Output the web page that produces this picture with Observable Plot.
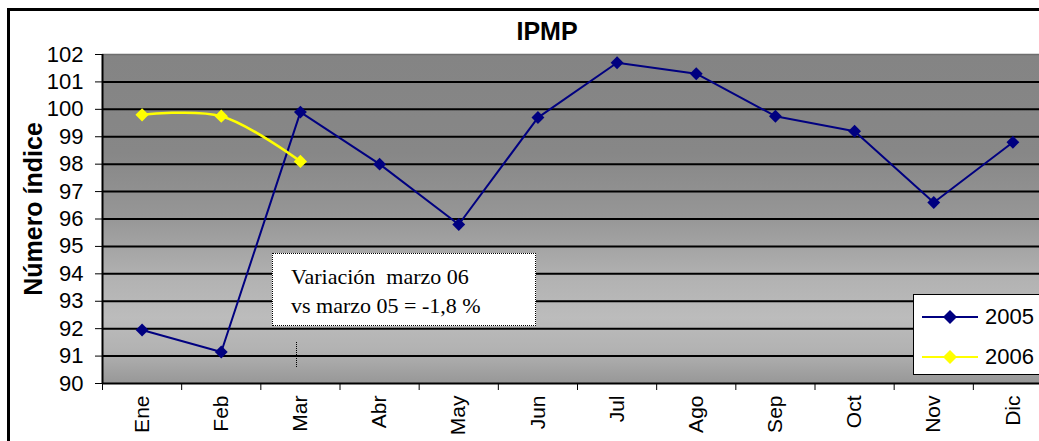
<!DOCTYPE html>
<html><head><meta charset="utf-8">
<script src="https://cdn.jsdelivr.net/npm/d3@7"></script>
<script src="https://cdn.jsdelivr.net/npm/@observablehq/plot@0.6"></script>
<style>
html,body{margin:0;padding:0;background:#fff;overflow:hidden}
#wrap{position:relative;width:1039px;height:441px;overflow:hidden;font-family:"Liberation Sans",Arial,sans-serif;color:#000}
#border{position:absolute;left:7px;top:8px;width:1100px;height:500px;border-left:3px solid #000;border-top:3px solid #000;box-sizing:border-box}
#chart{position:absolute;left:0;top:0;width:1060px;height:441px}
#chart svg{max-width:none !important;width:1060px;height:441px}
#title{position:absolute;left:0;width:1094px;top:19px;line-height:25px;text-align:center;font-weight:bold;font-size:25px}
#note{position:absolute;left:272px;top:253px;width:264px;height:73px;box-sizing:border-box;border:1.5px dotted #000;background:#fff;
  font-family:"Liberation Serif","Times New Roman",serif;font-size:22px;line-height:29px;padding:8px 0 0 18px;white-space:pre}
#noteLeader{position:absolute;left:296px;top:342px;height:25px;width:0;border-left:1.2px dotted #000}
#legend{position:absolute;left:913px;top:294px;width:140px;height:81px;box-sizing:border-box;border:1.5px solid #000;background:#fff}
.lg{position:absolute;left:8px;height:20px;font-size:22px;line-height:20px}
.lg svg{position:absolute;left:0;top:0}
.lg span{position:absolute;left:63px;top:0}
</style></head>
<body>
<div id="wrap">
  <div id="border"></div>
  <div id="chart"></div>
  <div id="title">IPMP</div>
  <div id="note">Variación  marzo 06
vs marzo 05 = -1,8 %</div>
  <div id="noteLeader"></div>
  <div id="legend"></div>
</div>
<script>
const months = ["Ene","Feb","Mar","Abr","May","Jun","Jul","Ago","Sep","Oct","Nov","Dic"];
const ipmp2005 = [91.95, 91.15, 99.9, 98.0, 95.8, 99.7, 101.7, 101.3, 99.75, 99.2, 96.6, 98.8];
const ipmp2006 = [99.8, 99.75, 98.1];
const yTicks = [90, 91, 92, 93, 94, 95, 96, 97, 98, 99, 100, 101, 102];
const seriesNames = ["2005", "2006"];
const seriesColors = ["#000080", "#ffff00"];

const d05 = ipmp2005.map((v, i) => ({x: i + 0.5, v}));
const d06 = ipmp2006.map((v, i) => ({x: i + 0.5, v}));
const bounds = d3.range(months.length + 1);

const svg = Plot.plot({
  width: 1060,
  height: 441,
  marginTop: 54,
  marginBottom: 58,
  marginLeft: 102,
  marginRight: 8,
  style: {fontFamily: '"Liberation Sans", Arial, sans-serif', color: "#000", background: "transparent", maxWidth: "none"},
  x: {domain: [0, months.length]},
  y: {domain: [90, 102]},
  marks: [
    Plot.frame({fill: "#999", stroke: "none"}),
    Plot.gridY({ticks: yTicks.filter(t => t > 90 && t < 102), stroke: "#000", strokeOpacity: 1, strokeWidth: 2}),
    Plot.ruleY([102], {stroke: "#6e6e6e", strokeWidth: 1.5}),
    Plot.ruleY([90], {stroke: "#000", strokeWidth: 2}),
    Plot.ruleX([0], {stroke: "#000", strokeWidth: 2}),
    Plot.axisY({ticks: yTicks, tickSize: 7, tickPadding: 12, fontSize: 22, label: null, tickFormat: d => String(d)}),
    Plot.axisX({ticks: bounds, tickSize: 7, tickFormat: () => "", label: null}),
    Plot.text(months, {x: (d, i) => i + 0.5, text: d => d, frameAnchor: "bottom", rotate: -90, textAnchor: "end", lineAnchor: "middle", dy: 12, fontSize: 21}),
    Plot.text(["Número índice"], {frameAnchor: "left", text: d => d, rotate: -90, textAnchor: "middle", dx: -69, dy: -10, fontSize: 25, fontWeight: "bold", lineAnchor: "middle"}),
    Plot.line(d05, {x: "x", y: "v", stroke: seriesColors[0], strokeWidth: 2}),
    Plot.dot(d05, {x: "x", y: "v", symbol: "diamond2", r: 5.8, fill: seriesColors[0], stroke: "none"}),
    Plot.line(d06, {x: "x", y: "v", stroke: seriesColors[1], strokeWidth: 2.5, curve: "catmull-rom"}),
    Plot.dot(d06, {x: "x", y: "v", symbol: "diamond2", r: 6, fill: seriesColors[1], stroke: "none"})
  ]
});

// gradient background of plot area
const sel = d3.select(svg);
const grad = sel.insert("defs", ":first-child").append("linearGradient")
  .attr("id", "ipmpBg").attr("x1", 0).attr("y1", 0).attr("x2", 0).attr("y2", 1);
[[0, "#848484"], [0.3, "#878787"], [0.5, "#979797"], [0.68, "#b2b2b2"], [0.8, "#bcbcbc"], [0.9, "#b2b2b2"], [1, "#979797"]]
  .forEach(([o, c]) => grad.append("stop").attr("offset", o).attr("stop-color", c));
const fr = svg.querySelector('[aria-label="frame"]');
if (fr) {
  const rects = fr.tagName.toLowerCase() === "rect" ? [fr] : fr.querySelectorAll("rect");
  rects.forEach(r => r.setAttribute("fill", "url(#ipmpBg)"));
  fr.setAttribute("fill", "url(#ipmpBg)");
}
svg.style.maxWidth = "none";
document.getElementById("chart").appendChild(svg);

// legend
const legend = document.getElementById("legend");
seriesNames.forEach((name, i) => {
  const row = document.createElement("div");
  row.className = "lg";
  row.style.top = (12 + i * 40) + "px";
  row.innerHTML = `<svg width="58" height="20"><line x1="0" x2="56" y1="10" y2="10" stroke="${seriesColors[i]}" stroke-width="2"/>` +
    `<path d="M28,3L35,10L28,17L21,10Z" fill="${seriesColors[i]}"/></svg><span>${name}</span>`;
  legend.appendChild(row);
});
</script>
</body></html>
